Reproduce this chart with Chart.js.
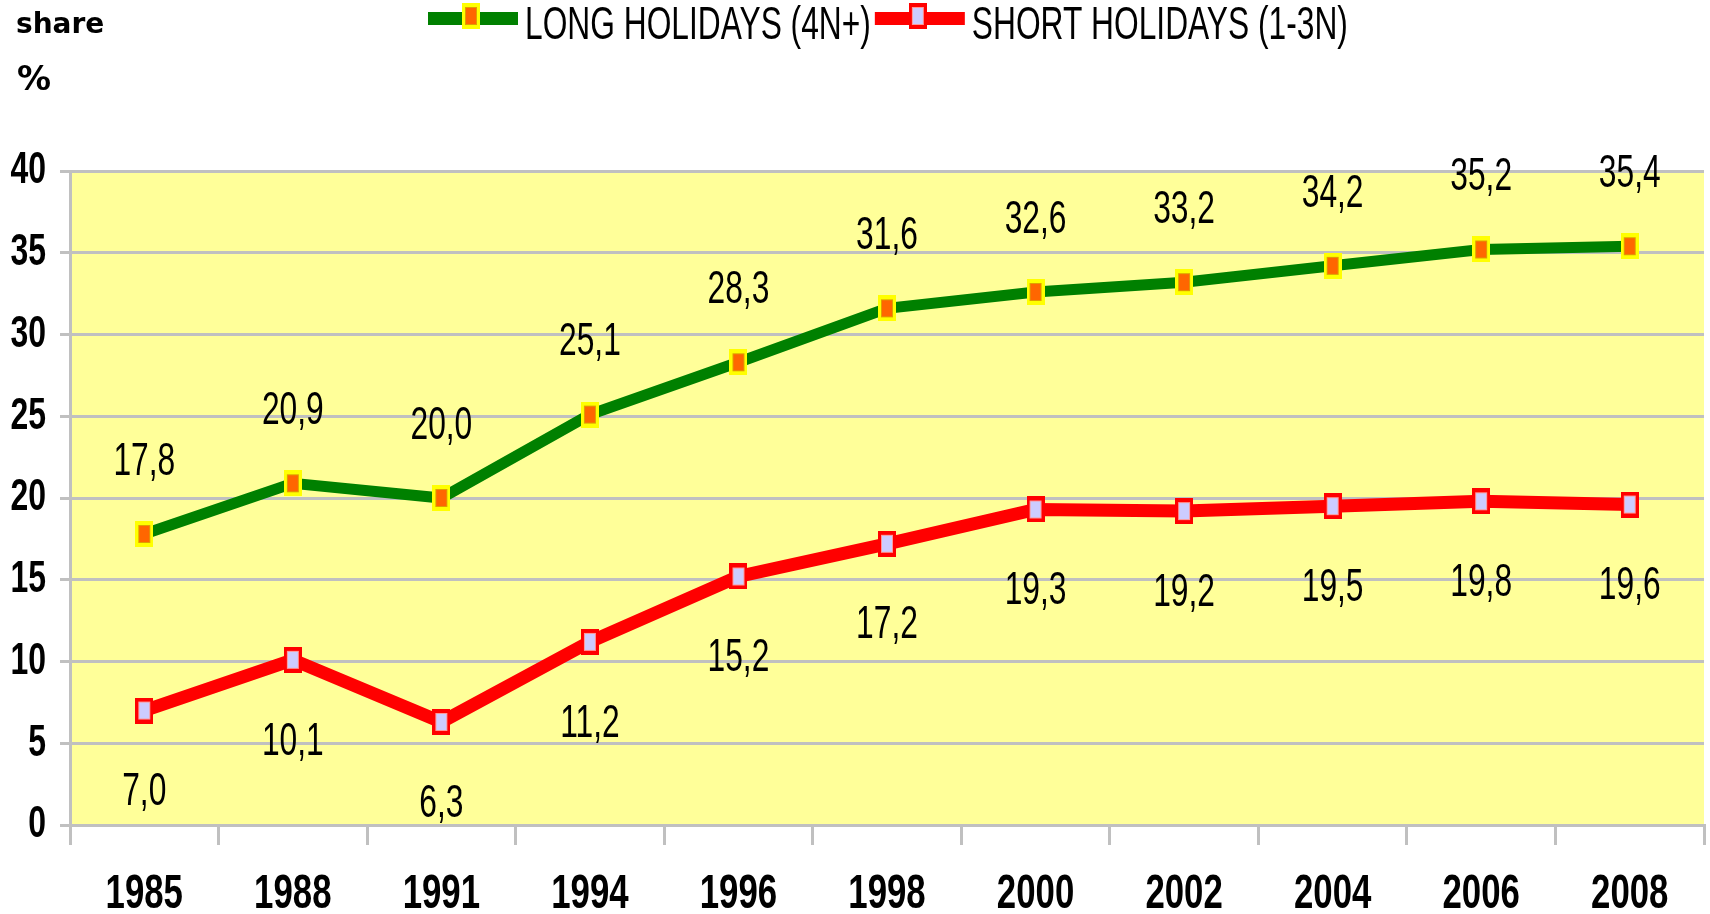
<!DOCTYPE html>
<html>
<head>
<meta charset="utf-8">
<script src="https://cdn.jsdelivr.net/npm/chart.js@4/dist/chart.umd.min.js"></script>
<style>
  html, body { margin: 0; padding: 0; background: #ffffff; }
  #wrap { width: 1710px; height: 914px; position: relative; }
  canvas { display: block; }
</style>
</head>
<body>
<div id="wrap"><canvas id="c" width="1710" height="914"></canvas></div>
<script>
// ---- data ----
const categories = ['1985', '1988', '1991', '1994', '1996', '1998', '2000', '2002', '2004', '2006', '2008'];
const longHolidays = [17.8, 20.9, 20.0, 25.1, 28.3, 31.6, 32.6, 33.2, 34.2, 35.2, 35.4];
const shortHolidays = [7.0, 10.1, 6.3, 11.2, 15.2, 17.2, 19.3, 19.2, 19.5, 19.8, 19.6];
const seriesNames = ['LONG HOLIDAYS (4N+)', 'SHORT HOLIDAYS (1-3N)'];
const yTitleLines = ['share', '%'];

// ---- condensed text rendering (the reference text is horizontally squeezed) ----
const canvas = document.getElementById('c');
const ctx = canvas.getContext('2d');
const pFill = CanvasRenderingContext2D.prototype.fillText;
const pMeasure = CanvasRenderingContext2D.prototype.measureText;
function sxOf(c) {
  if (c.__sx != null) return c.__sx;
  return /bold/.test(c.font) ? 0.71 : 0.68;
}
ctx.fillText = function (t, x, y, mw) {
  const s = sxOf(this);
  if (s === 1) { return mw === undefined ? pFill.call(this, t, x, y) : pFill.call(this, t, x, y, mw); }
  this.save();
  this.translate(x, y);
  this.scale(s, 1);
  if (mw === undefined) pFill.call(this, t, 0, 0); else pFill.call(this, t, 0, 0, mw / s);
  this.restore();
};
ctx.measureText = function (t) {
  const m = pMeasure.call(this, t);
  const s = sxOf(this);
  return {
    width: m.width * s,
    actualBoundingBoxAscent: m.actualBoundingBoxAscent,
    actualBoundingBoxDescent: m.actualBoundingBoxDescent,
    actualBoundingBoxLeft: m.actualBoundingBoxLeft * s,
    actualBoundingBoxRight: m.actualBoundingBoxRight * s,
    fontBoundingBoxAscent: m.fontBoundingBoxAscent,
    fontBoundingBoxDescent: m.fontBoundingBoxDescent
  };
};

// ---- marker images ----
function makeMarker(outer, edge, inner) {
  const c = document.createElement('canvas');
  c.width = 18; c.height = 26;
  const g = c.getContext('2d');
  g.fillStyle = outer; g.fillRect(0, 0, 18, 26);
  g.fillStyle = edge; g.fillRect(3, 4, 12, 18);
  g.fillStyle = inner; g.fillRect(4, 5, 10, 16);
  return c;
}
const greenMarker = makeMarker('#FFFF00', '#E0A000', '#FF6600');
const redMarker = makeMarker('#FF0000', '#FF9999', '#CCCCFF');

const GRID = '#C0C0C0';

const bgPlugin = {
  id: 'bg',
  beforeDraw(chart) {
    const c = chart.ctx, a = chart.chartArea;
    c.save();
    c.fillStyle = '#FFFFFF';
    c.fillRect(0, 0, chart.width, chart.height);
    c.fillStyle = '#FFFF99';
    c.fillRect(a.left, a.top, a.right - a.left, a.bottom - a.top);
    c.restore();
  }
};

const labelPlugin = {
  id: 'valueLabels',
  afterDatasetsDraw(chart) {
    const c = chart.ctx;
    c.save();
    c.__sx = 0.69;
    c.font = '46px "Liberation Sans", Arial, sans-serif';
    c.fillStyle = '#000000';
    c.textAlign = 'center';
    c.textBaseline = 'middle';
    chart.data.datasets.forEach((ds, di) => {
      const meta = chart.getDatasetMeta(di);
      const off = di === 0 ? -72 : 82;
      meta.data.forEach((pt, i) => {
        const txt = ds.data[i].toFixed(1).replace('.', ',');
        c.fillText(txt, pt.x, pt.y + off);
      });
    });
    c.__sx = null;
    c.restore();
  }
};

const legendTitlePlugin = {
  id: 'legendTitle',
  afterDraw(chart) {
    const c = chart.ctx;
    c.save();
    // y title
    c.__sx = 1;
    c.fillStyle = '#000000';
    c.textAlign = 'left';
    c.textBaseline = 'alphabetic';
    c.font = 'bold 28px "DejaVu Sans", sans-serif';
    c.fillText(yTitleLines[0], 16, 33);
    c.font = 'bold 34px "DejaVu Sans", sans-serif';
    c.fillText(yTitleLines[1], 17, 90);
    // legend
    c.__sx = 0.675;
    c.font = '47px "Liberation Sans", Arial, sans-serif';
    let x = 428;
    chart.data.datasets.forEach((ds) => {
      c.fillStyle = ds.borderColor;
      c.fillRect(x, 12, 90, 13);
      c.drawImage(ds.pointStyle, x + 34, 3);
      const tx = x + 97;
      c.fillStyle = '#000000';
      c.fillText(ds.label, tx, 39);
      x = tx + c.measureText(ds.label).width + 4;
    });
    c.__sx = null;
    c.restore();
  }
};

new Chart(ctx, {
  type: 'line',
  data: {
    labels: categories,
    datasets: [
      {
        label: seriesNames[0],
        data: longHolidays,
        borderColor: '#008000',
        backgroundColor: '#008000',
        borderWidth: 11,
        tension: 0,
        pointStyle: greenMarker,
        pointRadius: 9,
        pointHoverRadius: 9
      },
      {
        label: seriesNames[1],
        data: shortHolidays,
        borderColor: '#FF0000',
        backgroundColor: '#FF0000',
        borderWidth: 13,
        tension: 0,
        pointStyle: redMarker,
        pointRadius: 9,
        pointHoverRadius: 9
      }
    ]
  },
  options: {
    responsive: false,
    animation: false,
    events: [],
    layout: { autoPadding: false, padding: { top: 171, left: 0, right: 6, bottom: 0 } },
    plugins: {
      legend: { display: false },
      tooltip: { enabled: false }
    },
    scales: {
      x: {
        offset: true,
        afterFit(scale) { scale.height = 89; scale.paddingLeft = 0; scale.paddingRight = 0; },
        grid: {
          offset: true,
          drawOnChartArea: false,
          drawTicks: true,
          tickLength: 20,
          color: GRID,
          lineWidth: 3
        },
        border: { display: true, color: GRID, width: 3 },
        ticks: {
          color: '#000000',
          padding: 20,
          maxRotation: 0,
          autoSkip: false,
          font: { family: '"Liberation Sans", Arial, sans-serif', size: 49, weight: 'bold' }
        }
      },
      y: {
        min: 0,
        max: 40,
        afterFit(scale) { scale.width = 70; },
        grid: {
          color: GRID,
          lineWidth: 3,
          drawTicks: true,
          tickLength: 10
        },
        border: { display: true, color: GRID, width: 3 },
        ticks: {
          stepSize: 5,
          color: '#000000',
          padding: 14,
          font: { family: '"Liberation Sans", Arial, sans-serif', size: 45, weight: 'bold' }
        }
      }
    }
  },
  plugins: [bgPlugin, labelPlugin, legendTitlePlugin]
});
</script>
</body>
</html>
